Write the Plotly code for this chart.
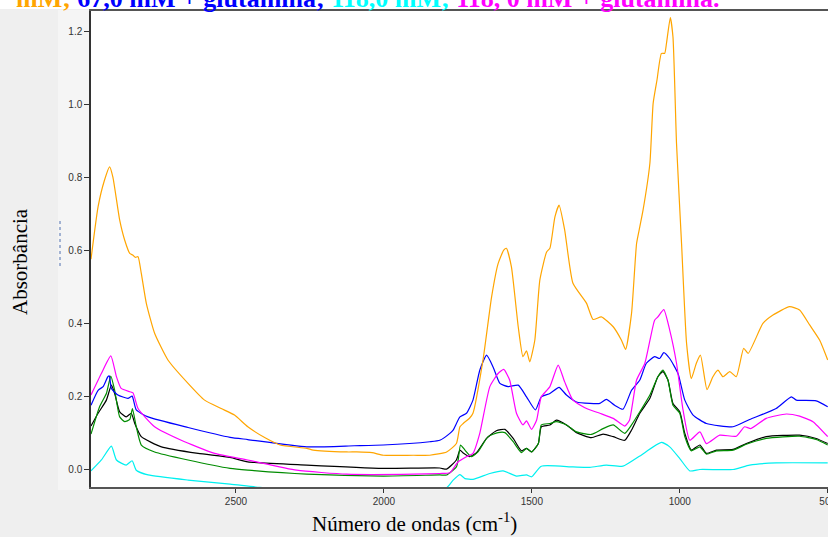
import plotly.graph_objects as go

# FTIR spectra: wavenumber (cm-1) and absorbance for each sample
orange_wn = [2990, 2966, 2945, 2927, 2916, 2893, 2876, 2859, 2848, 2840, 2831, 2820, 2803, 2775, 2730, 2662, 2606, 2550, 2505, 2460, 2400, 2351, 2261, 2239, 2126, 2092, 2040, 2002, 1900, 1845, 1788, 1755, 1743, 1732, 1710, 1699, 1665, 1636, 1614, 1595, 1586, 1569, 1546, 1530, 1518, 1507, 1490, 1473, 1450, 1439, 1422, 1408, 1389, 1361, 1315, 1293, 1265, 1225, 1197, 1183, 1163, 1146, 1135, 1124, 1101, 1090, 1077, 1062, 1051, 1045, 1032, 1023, 1011, 994, 977, 961, 944, 930, 908, 888, 871, 854, 831, 809, 784, 769, 719, 685, 629, 595, 561, 527, 500]
orange_abs = [0.575, 0.719, 0.79, 0.828, 0.80, 0.682, 0.627, 0.591, 0.586, 0.58, 0.582, 0.536, 0.454, 0.372, 0.299, 0.235, 0.189, 0.166, 0.148, 0.116, 0.085, 0.066, 0.057, 0.052, 0.047, 0.047, 0.045, 0.038, 0.038, 0.038, 0.047, 0.070, 0.116, 0.125, 0.14, 0.153, 0.299, 0.472, 0.563, 0.60, 0.605, 0.554, 0.39, 0.308, 0.324, 0.294, 0.353, 0.518, 0.595, 0.605, 0.691, 0.723, 0.655, 0.509, 0.454, 0.41, 0.417, 0.39, 0.353, 0.328, 0.427, 0.618, 0.664, 0.71, 0.838, 1.002, 1.066, 1.139, 1.139, 1.166, 1.237, 1.184, 0.892, 0.618, 0.344, 0.248, 0.29, 0.312, 0.218, 0.253, 0.271, 0.253, 0.267, 0.253, 0.331, 0.317, 0.399, 0.422, 0.445, 0.436, 0.395, 0.353, 0.299]

blue_wn = [2990, 2966, 2949, 2933, 2928, 2921, 2899, 2865, 2851, 2837, 2797, 2662, 2520, 2460, 2261, 2100, 2002, 1845, 1811, 1777, 1766, 1743, 1721, 1699, 1676, 1653, 1631, 1608, 1580, 1546, 1518, 1488, 1468, 1439, 1408, 1383, 1349, 1304, 1270, 1248, 1220, 1192, 1163, 1135, 1113, 1085, 1068, 1054, 1034, 1006, 983, 955, 910, 820, 764, 674, 623, 606, 539, 500]
blue_abs = [0.175, 0.216, 0.226, 0.253, 0.255, 0.221, 0.203, 0.194, 0.20, 0.162, 0.143, 0.114, 0.087, 0.081, 0.061, 0.064, 0.066, 0.075, 0.079, 0.098, 0.107, 0.143, 0.153, 0.189, 0.271, 0.312, 0.28, 0.235, 0.226, 0.23, 0.198, 0.162, 0.198, 0.207, 0.224, 0.203, 0.184, 0.18, 0.18, 0.191, 0.175, 0.164, 0.216, 0.244, 0.29, 0.308, 0.303, 0.319, 0.303, 0.262, 0.189, 0.148, 0.125, 0.116, 0.136, 0.166, 0.198, 0.189, 0.187, 0.171]

magenta_wn = [2990, 2955, 2923, 2904, 2888, 2859, 2848, 2831, 2775, 2685, 2572, 2460, 2295, 2126, 1900, 1811, 1777, 1749, 1721, 1699, 1676, 1642, 1614, 1595, 1575, 1552, 1530, 1518, 1501, 1484, 1468, 1439, 1411, 1389, 1361, 1315, 1270, 1225, 1186, 1170, 1146, 1118, 1085, 1074, 1054, 1034, 1011, 989, 966, 932, 910, 865, 809, 781, 760, 708, 640, 595, 550, 500]
magenta_abs = [0.203, 0.262, 0.31, 0.253, 0.221, 0.212, 0.209, 0.166, 0.116, 0.079, 0.043, 0.025, -0.003, -0.014, -0.014, -0.012, -0.010, 0.02, 0.034, 0.043, 0.098, 0.226, 0.262, 0.273, 0.244, 0.153, 0.121, 0.132, 0.109, 0.134, 0.198, 0.226, 0.285, 0.239, 0.189, 0.166, 0.153, 0.139, 0.118, 0.134, 0.244, 0.29, 0.408, 0.417, 0.437, 0.381, 0.29, 0.162, 0.079, 0.102, 0.07, 0.093, 0.09, 0.116, 0.111, 0.139, 0.151, 0.145, 0.13, 0.089]

black_wn = [2990, 2966, 2938, 2921, 2910, 2893, 2871, 2854, 2842, 2820, 2752, 2628, 2520, 2460, 2261, 2002, 1811, 1788, 1755, 1743, 1733, 1710, 1687, 1653, 1620, 1591, 1563, 1535, 1518, 1501, 1478, 1468, 1439, 1417, 1383, 1349, 1299, 1259, 1225, 1186, 1163, 1135, 1101, 1074, 1057, 1040, 1023, 1000, 983, 961, 932, 910, 876, 820, 775, 708, 595, 539, 500]
black_abs = [0.118, 0.153, 0.189, 0.23, 0.207, 0.157, 0.143, 0.153, 0.125, 0.089, 0.061, 0.043, 0.032, 0.02, 0.011, 0.002, 0.003, 0.0, 0.025, 0.052, 0.045, 0.034, 0.045, 0.084, 0.105, 0.109, 0.084, 0.05, 0.057, 0.047, 0.07, 0.116, 0.121, 0.134, 0.121, 0.1, 0.086, 0.096, 0.089, 0.079, 0.107, 0.153, 0.194, 0.253, 0.267, 0.244, 0.18, 0.157, 0.098, 0.052, 0.066, 0.043, 0.052, 0.054, 0.07, 0.089, 0.093, 0.084, 0.07]

green_wn = [2990, 2961, 2938, 2923, 2910, 2893, 2876, 2859, 2850, 2837, 2820, 2775, 2662, 2520, 2460, 2261, 2002, 1811, 1788, 1755, 1749, 1741, 1726, 1704, 1682, 1648, 1614, 1591, 1563, 1535, 1518, 1501, 1478, 1468, 1439, 1417, 1383, 1349, 1299, 1259, 1225, 1186, 1163, 1135, 1101, 1074, 1057, 1040, 1023, 1000, 983, 961, 932, 910, 876, 820, 775, 708, 595, 539, 500]
green_abs = [0.096, 0.171, 0.207, 0.255, 0.216, 0.143, 0.13, 0.136, 0.166, 0.116, 0.066, 0.047, 0.025, 0.002, -0.003, -0.014, -0.019, -0.016, -0.016, 0.006, 0.025, 0.066, 0.052, 0.034, 0.047, 0.089, 0.1, 0.1, 0.075, 0.045, 0.057, 0.047, 0.07, 0.121, 0.125, 0.13, 0.121, 0.102, 0.095, 0.111, 0.121, 0.098, 0.121, 0.157, 0.203, 0.253, 0.271, 0.244, 0.175, 0.153, 0.089, 0.05, 0.061, 0.041, 0.05, 0.052, 0.068, 0.084, 0.09, 0.081, 0.066]

cyan_wn = [2990, 2955, 2921, 2904, 2871, 2851, 2837, 2797, 2662, 2520, 2420, 2370, 1790, 1766, 1743, 1726, 1699, 1642, 1597, 1552, 1518, 1501, 1468, 1361, 1304, 1248, 1192, 1135, 1062, 1034, 1000, 966, 932, 820, 764, 674, 500]
cyan_abs = [-0.005, 0.025, 0.063, 0.025, 0.011, 0.023, -0.003, -0.016, -0.03, -0.041, -0.05, -0.052, -0.052, -0.03, -0.015, -0.026, -0.028, -0.012, -0.005, -0.019, -0.016, -0.021, 0.008, 0.006, 0.005, 0.011, 0.008, 0.036, 0.073, 0.061, 0.029, -0.005, -0.001, -0.001, 0.011, 0.017, 0.017]

x_ticks = [2500, 2000, 1500, 1000, 500]
y_ticks = [0.0, 0.2, 0.4, 0.6, 0.8, 1.0, 1.2]

caption_parts = [
    ("mM;", "#FFA500"),
    (" 67,0 mM + glutamina;", "#0000FF"),
    (" 118,0 mM;", "#00FFFF"),
    (" 118, 0 mM + glutamina.", "#FF00FF"),
]

series = [
    (black_wn, black_abs, "#000000"),
    (green_wn, green_abs, "#008C00"),
    (cyan_wn, cyan_abs, "#00F0F0"),
    (blue_wn, blue_abs, "#0000FF"),
    (magenta_wn, magenta_abs, "#FF00FF"),
    (orange_wn, orange_abs, "#FFA500"),
]

fig = go.Figure()
for wn, ab, col in series:
    fig.add_trace(go.Scatter(x=wn, y=ab, mode="lines",
                             line=dict(color=col, width=1.2, shape="spline", smoothing=0.5),
                             showlegend=False, hoverinfo="skip"))

W, H = 828, 537
L, R, T, B = 91, 0, 11, 50
pw, ph = W - L - R, H - T - B


def px_x(px):
    return (px - L) / pw


def px_y(py):
    return (H - B - py) / ph


tick_font = dict(family="Liberation Sans, Arial", size=10, color="#333333")
serif = "Liberation Serif, Times New Roman"

fig.update_layout(
    width=W, height=H,
    margin=dict(l=L, r=R, t=T, b=B, autoexpand=False),
    paper_bgcolor="#efefef",
    plot_bgcolor="#ffffff",
    xaxis=dict(range=[2990, 499], tickvals=x_ticks,
               ticktext=[str(v) for v in x_ticks],
               showgrid=False, zeroline=False, automargin=False,
               showline=True, mirror=True, linecolor="#555555", linewidth=1.5,
               ticks="outside", ticklen=4, tickcolor="#333333",
               ticklabeloverflow="allow",
               tickfont=tick_font),
    yaxis=dict(range=[-0.049, 1.255], tickvals=y_ticks,
               ticktext=[f"{v:.1f}" for v in y_ticks],
               showgrid=False, zeroline=False, automargin=False,
               showline=True, mirror=True, linecolor="#333333", linewidth=1.5,
               ticks="outside", ticklen=5, tickcolor="#333333",
               tickfont=tick_font),
    shapes=[
        # lighter panel around the plotting area
        dict(type="rect", xref="paper", yref="paper", layer="below",
             x0=px_x(58), x1=px_x(828), y0=px_y(490), y1=px_y(10),
             fillcolor="#f5f5f5", line=dict(width=0)),
        # white plotting area
        dict(type="rect", xref="paper", yref="paper", layer="below",
             x0=0, x1=1, y0=0, y1=1,
             fillcolor="#ffffff", line=dict(width=0)),
        # white strip behind the caption
        dict(type="rect", xref="paper", yref="paper", layer="below",
             x0=px_x(0), x1=px_x(828), y0=px_y(9), y1=px_y(0),
             fillcolor="#ffffff", line=dict(width=0)),
        dict(type="line", xref="paper", yref="paper",
             x0=px_x(60), x1=px_x(60), y0=px_y(266), y1=px_y(218),
             line=dict(color="#5070b0", width=1, dash="dot")),
    ],
)

caption = "".join(f"<span style='color:{c}'>{t}</span>" for t, c in caption_parts)
fig.add_annotation(text="<b>" + caption + "</b>", xref="paper", yref="paper",
                   x=px_x(14), y=px_y(15), xanchor="left", yanchor="bottom",
                   showarrow=False,
                   font=dict(family=serif, size=26))

fig.add_annotation(text="Absorbância", xref="paper", yref="paper",
                   x=px_x(20), y=px_y(262), textangle=-90,
                   xanchor="center", yanchor="middle", showarrow=False,
                   font=dict(family=serif, size=21, color="#000000"))
fig.add_annotation(text="Número de ondas (cm<sup>-1</sup>)", xref="paper", yref="paper",
                   x=px_x(414), y=px_y(522),
                   xanchor="center", yanchor="middle", showarrow=False,
                   font=dict(family=serif, size=21, color="#000000"))

fig.write_html("out.html")
